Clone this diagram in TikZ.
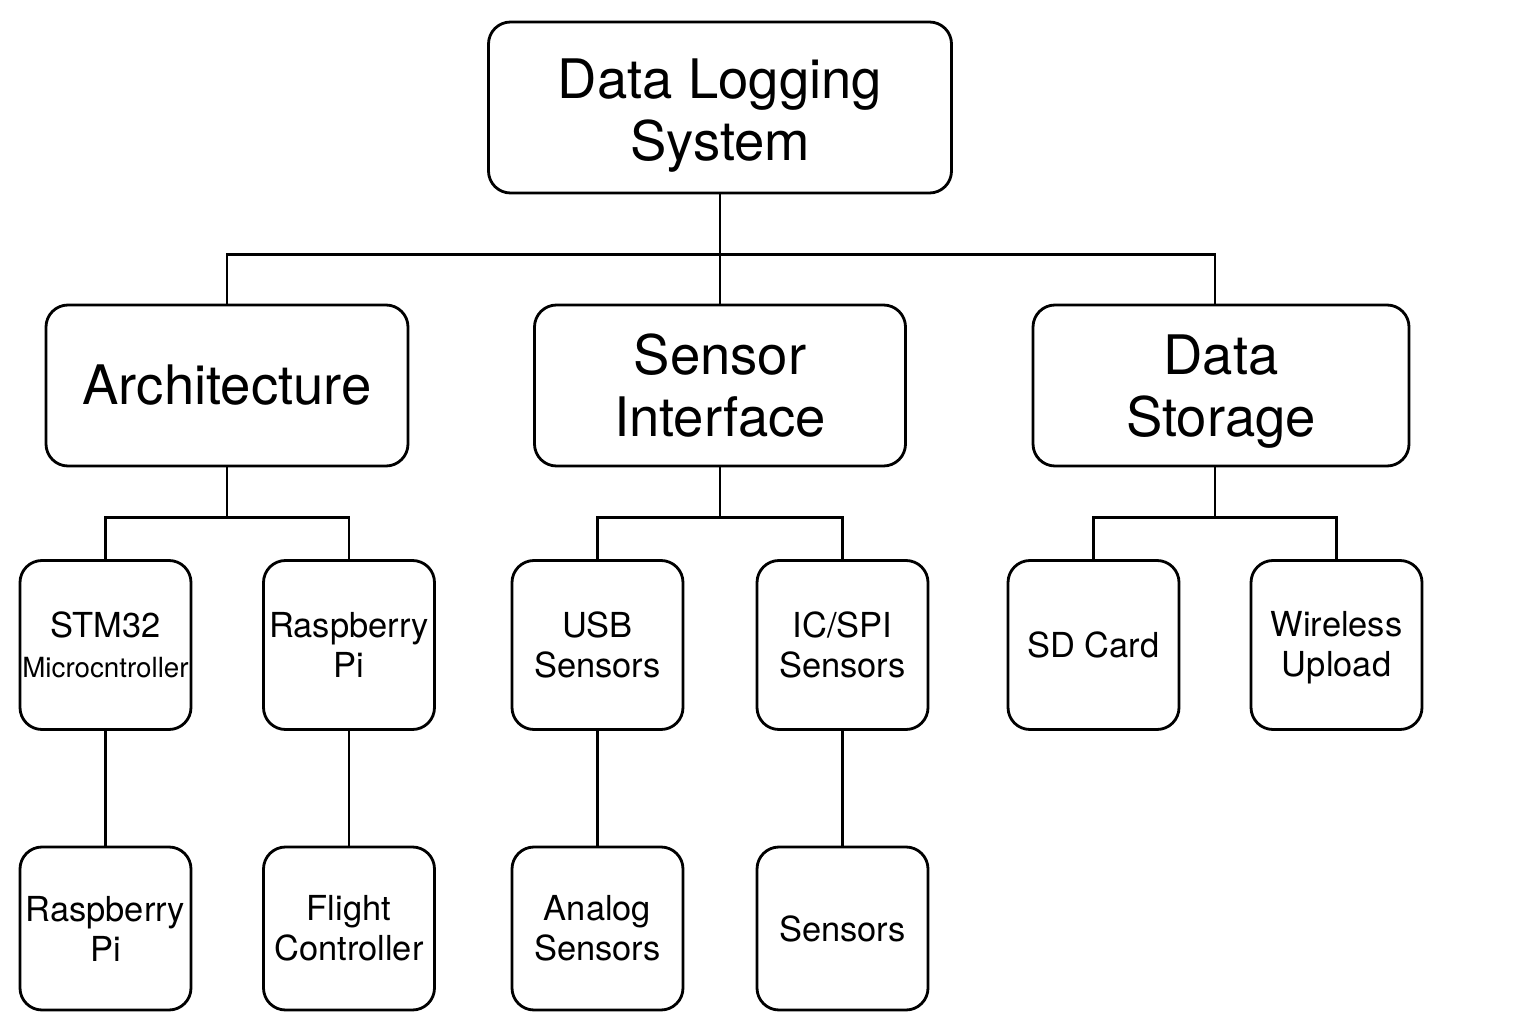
\documentclass[tikz,border=0pt]{standalone}
\usepackage{fontspec}
\setmainfont{TeX Gyre Heros}
\usepackage{tikz}
\newcommand{\bigsize}{\fontsize{15.5}{17.8}\selectfont}
\newcommand{\smallsize}{\fontsize{9.8}{11.4}\selectfont}
\newcommand{\tinysize}{\fontsize{7.9}{9.6}\selectfont}

\begin{document}
\begin{tikzpicture}[
  line width=0.8pt,
  box/.style={draw, rounded corners=0.22cm, align=center, inner sep=0pt},
  topbox/.style={box, minimum width=4.63cm, minimum height=1.71cm, font=\bigsize},
  midbox/.style={box, minimum height=1.61cm, font=\bigsize},
  leafbox/.style={box, minimum width=1.71cm, minimum height=1.69cm, font=\smallsize},
  lowbox/.style={box, minimum width=1.71cm, minimum height=1.63cm, font=\smallsize}
]
\useasboundingbox (0,0) rectangle (15.36,10.24);

\node[topbox]                        (system)    at ( 7.2  , 9.165) {\rule{0pt}{0.56cm}Data Logging\\System};
\node[midbox, minimum width=3.62cm]  (arch)      at ( 2.27 , 6.385) {Architecture};
\node[midbox, minimum width=3.71cm]  (sensor)    at ( 7.2  , 6.385) {Sensor\\Interface};
\node[midbox, minimum width=3.76cm]  (storage)   at (12.21 , 6.385) {\rule{0pt}{0.52cm}Data\\Storage};

\node[leafbox]                       (stm)       at ( 1.055, 3.79 ) {STM32\\{\tinysize Microcntroller}};
\node[leafbox]                       (rpiTop)    at ( 3.49 , 3.79 ) {Raspberry\\Pi};
\node[leafbox]                       (usb)       at ( 5.975, 3.79 ) {USB\\Sensors};
\node[leafbox]                       (icspi)     at ( 8.425, 3.79 ) {IC/SPI\\Sensors};
\node[leafbox]                       (sdcard)    at (10.935, 3.79 ) {SD Card};
\node[leafbox]                       (wireless)  at (13.365, 3.79 ) {\rule{0pt}{0.3cm}Wireless\\Upload};

\node[lowbox]                        (rpiLow)    at ( 1.055, 0.955) {Raspberry\\Pi};
\node[lowbox]                        (flight)    at ( 3.49 , 0.955) {Flight\\Controller};
\node[lowbox]                        (analog)    at ( 5.975, 0.955) {Analog\\Sensors};
\node[lowbox]                        (sensors)   at ( 8.425, 0.955) {Sensors};

\coordinate (storageTop)    at ([xshift=-0.06cm]storage.north);
\coordinate (storageBottom) at ([xshift=-0.06cm]storage.south);

\draw (system.south) -- ++(0,-0.6) -| (arch.north);
\draw (system.south) -- ++(0,-0.6) -| (storageTop);
\draw (system.south) -- (sensor.north);

\draw (arch.south) -- ++(0,-0.5) -| (stm.north);
\draw (arch.south) -- ++(0,-0.5) -| (rpiTop.north);
\draw (sensor.south) -- ++(0,-0.5) -| (usb.north);
\draw (sensor.south) -- ++(0,-0.5) -| (icspi.north);
\draw (storageBottom) -- ++(0,-0.5) -| (sdcard.north);
\draw (storageBottom) -- ++(0,-0.5) -| (wireless.north);

\draw (stm.south) -- (rpiLow.north);
\draw (rpiTop.south) -- (flight.north);
\draw (usb.south) -- (analog.north);
\draw (icspi.south) -- (sensors.north);
\end{tikzpicture}
\end{document}
